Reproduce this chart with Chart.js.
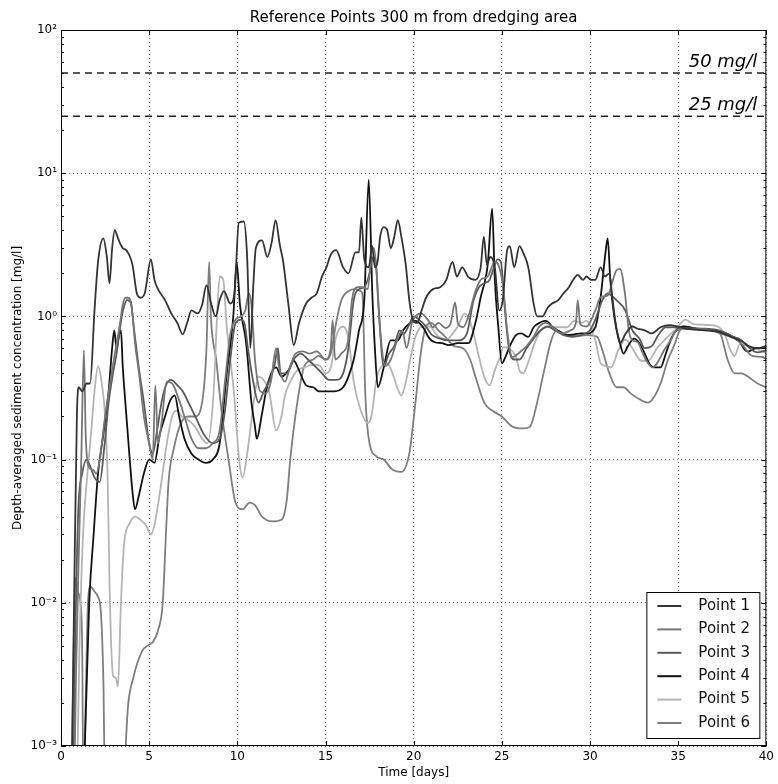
<!DOCTYPE html>
<html>
<head>
<meta charset="utf-8">
<script src="https://cdn.jsdelivr.net/npm/chart.js@4.4.1/dist/chart.umd.min.js"></script>
<style>
  html, body { margin: 0; padding: 0; background: #fff; }
  #wrap { width: 778px; height: 784px; }
</style>
</head>
<body>
<div id="wrap"><canvas id="conc"></canvas></div>
<script>
// [time in days, depth-averaged concentration in mg/l]
var point1 = [[0.6,0.0005],[0.75,0.012],[0.9,0.2],[1.0,0.32],[1.2,0.3],[1.45,0.34],[1.65,0.34],[1.9,1.1],[2.1,2.4],[2.4,3.5],[2.6,2.6],[2.75,1.7],[2.9,3.0],[3.05,4.0],[3.2,3.6],[3.32,3.3],[3.5,3.0],[3.7,2.9],[4.05,2.3],[4.3,1.45],[4.5,1.35],[4.75,1.45],[5.1,2.5],[5.3,1.8],[5.5,1.55],[5.9,1.3],[6.25,1.05],[6.6,0.9],[6.9,0.75],[7.15,0.9],[7.4,1.1],[7.75,1.05],[8.0,1.2],[8.25,1.65],[8.5,1.25],[8.77,1.0],[9.0,1.3],[9.24,1.5],[9.6,1.23],[9.85,1.5],[10.08,4.5],[10.37,4.6],[10.55,2.7],[10.74,0.6],[10.9,1.6],[11.05,3.0],[11.4,3.4],[11.7,2.6],[11.95,3.3],[12.17,4.7],[12.4,3.2],[12.6,2.4],[12.9,1.2],[13.2,0.63],[13.5,0.9],[13.9,1.23],[14.2,1.35],[14.5,1.45],[14.8,1.9],[15.05,2.2],[15.3,2.7],[15.6,2.9],[16.0,2.2],[16.3,2.0],[16.7,2.8],[16.9,2.8],[17.03,4.9],[17.2,2.5],[17.45,2.2],[17.65,3.1],[17.8,2.2],[17.95,2.4],[18.1,3.6],[18.3,4.2],[18.5,4.0],[18.7,3.0],[18.9,3.6],[19.1,4.7],[19.3,3.6],[19.55,2.3],[19.75,1.3],[19.95,0.95],[20.2,0.9],[20.45,1.1],[20.7,1.35],[21.1,1.55],[21.5,1.6],[21.85,1.8],[22.2,2.4],[22.45,1.9],[22.75,2.2],[23.1,1.88],[23.5,1.8],[23.8,2.2],[23.98,3.6],[24.15,2.3],[24.35,2.6],[24.6,2.2],[24.85,1.1],[25.05,1.3],[25.3,2.9],[25.45,3.1],[25.7,2.2],[26.0,3.1],[26.2,2.8],[26.5,2.2],[26.8,1.23],[27.0,1.0],[27.3,1.0],[27.6,1.15],[27.85,1.23],[28.2,1.3],[28.5,1.45],[28.8,1.6],[29.05,1.8],[29.3,1.95],[29.6,1.8],[29.8,1.9],[30.05,1.8],[30.3,1.8],[30.6,2.2],[30.85,1.9],[31.1,2.0],[31.25,1.4],[31.45,0.9],[31.7,0.65],[32.0,0.75],[32.4,0.85],[32.7,0.82],[33.1,0.8],[33.5,0.76],[34.0,0.84],[34.5,0.87],[35.0,0.85],[35.5,0.82],[36.5,0.8],[37.3,0.78],[38.0,0.72],[38.6,0.67],[39.0,0.62],[39.5,0.6],[40,0.62]];
var point2 = [[0.75,0.0005],[0.85,0.003],[1.0,0.02],[1.15,0.1],[1.3,0.58],[1.4,0.15],[1.55,0.09],[1.8,0.085],[2.0,0.08],[2.2,0.1],[2.5,0.2],[2.8,0.35],[3.0,0.5],[3.2,0.7],[3.35,0.9],[3.5,1.2],[3.65,1.35],[3.8,1.35],[4.0,1.2],[4.2,0.65],[4.45,0.38],[4.7,0.2],[5.0,0.13],[5.2,0.1],[5.35,0.33],[5.5,0.13],[5.7,0.18],[6.0,0.35],[6.3,0.34],[6.7,0.26],[7.0,0.2],[7.4,0.14],[7.8,0.12],[8.2,0.12],[8.6,0.13],[9.0,0.16],[9.3,0.35],[9.6,0.75],[9.9,0.95],[10.2,1.0],[10.45,1.1],[10.65,1.45],[10.8,1.2],[11.0,0.5],[11.3,0.3],[11.6,0.29],[11.9,0.35],[12.2,0.6],[12.35,0.45],[12.7,0.35],[13.0,0.45],[13.3,0.55],[13.7,0.57],[14.1,0.55],[14.5,0.57],[15.0,0.5],[15.3,0.6],[15.4,0.94],[15.55,0.5],[15.9,0.55],[16.3,0.7],[16.5,1.3],[16.8,1.6],[17.1,1.6],[17.4,1.55],[17.6,2.8],[17.75,3.0],[17.9,2.0],[18.1,0.8],[18.4,0.45],[18.7,0.5],[19.1,0.7],[19.35,0.8],[19.6,0.6],[19.9,0.9],[20.1,1.0],[20.4,1.05],[20.8,0.95],[21.1,0.84],[21.4,0.9],[21.8,0.83],[22.1,0.9],[22.35,1.25],[22.5,0.9],[22.8,0.84],[23.1,1.0],[23.5,1.5],[23.8,1.8],[24.2,1.9],[24.6,2.4],[24.8,2.3],[25.1,1.5],[25.3,0.8],[25.6,0.52],[26.0,0.56],[26.4,0.62],[26.8,0.72],[27.1,0.84],[27.5,0.9],[27.9,0.84],[28.4,0.76],[28.9,0.8],[29.2,0.9],[29.3,1.3],[29.45,0.88],[29.8,0.85],[30.3,1.1],[30.6,1.36],[31.0,1.4],[31.3,1.8],[31.5,2.1],[31.7,2.15],[31.98,1.45],[32.2,0.8],[32.4,0.68],[32.7,0.66],[33.0,0.55],[33.2,0.49],[33.55,0.44],[33.8,0.47],[34.2,0.58],[34.6,0.69],[34.9,0.8],[35.4,0.82],[36.8,0.8],[37.7,0.74],[38.2,0.7],[38.6,0.64],[39.2,0.53],[39.8,0.52],[40,0.5]];
var point3 = [[0.7,0.0005],[0.8,0.005],[0.9,0.02],[1.0,0.05],[1.2,0.08],[1.45,0.1],[1.65,0.09],[1.9,0.075],[2.2,0.07],[2.45,0.12],[2.7,0.25],[2.95,0.4],[3.15,0.55],[3.3,0.75],[3.45,1.0],[3.6,1.2],[3.75,1.3],[3.95,1.25],[4.15,0.8],[4.4,0.45],[4.7,0.25],[5.0,0.13],[5.2,0.11],[5.45,0.16],[5.7,0.25],[5.95,0.33],[6.25,0.36],[6.6,0.33],[6.9,0.3],[7.3,0.24],[7.7,0.19],[8.1,0.15],[8.6,0.13],[9.0,0.14],[9.3,0.22],[9.6,0.5],[9.9,0.9],[10.2,0.95],[10.4,0.9],[10.6,0.6],[10.9,0.35],[11.2,0.25],[11.5,0.3],[11.8,0.35],[12.1,0.45],[12.3,0.6],[12.45,0.4],[12.8,0.4],[13.2,0.5],[13.6,0.55],[14.0,0.5],[14.4,0.45],[14.8,0.4],[15.2,0.36],[15.6,0.36],[16.0,0.4],[16.3,0.6],[16.6,1.3],[16.9,1.55],[17.2,1.6],[17.5,2.0],[17.7,2.6],[17.85,2.4],[18.0,1.2],[18.3,0.45],[18.6,0.55],[18.9,0.62],[19.2,0.8],[19.4,0.75],[19.7,0.85],[20.0,1.0],[20.3,0.95],[20.7,0.85],[21.0,0.75],[21.5,0.7],[22.0,0.68],[22.5,0.68],[23.0,0.75],[23.4,1.3],[23.7,1.6],[24.0,1.7],[24.3,1.8],[24.55,2.2],[24.75,2.5],[24.95,2.4],[25.15,1.2],[25.4,0.6],[25.7,0.5],[26.0,0.5],[26.4,0.6],[26.8,0.7],[27.2,0.8],[27.6,0.85],[28.0,0.8],[28.5,0.74],[29.0,0.72],[29.5,0.74],[30.0,0.8],[30.3,0.95],[30.7,1.3],[31.0,1.45],[31.2,1.4],[31.5,1.3],[32.0,1.1],[32.4,0.8],[32.8,0.7],[33.1,0.6],[33.5,0.62],[33.9,0.75],[34.3,0.84],[34.8,0.84],[35.2,0.83],[36.5,0.82],[37.3,0.8],[37.9,0.74],[38.6,0.68],[39.2,0.58],[39.5,0.56],[40,0.58]];
var point4 = [[1.2,0.0005],[1.35,0.001],[1.6,0.01],[1.85,0.03],[2.1,0.08],[2.4,0.15],[2.7,0.3],[2.9,0.6],[3.02,0.8],[3.15,0.6],[3.3,0.75],[3.4,0.8],[3.5,0.45],[3.65,0.25],[3.85,0.12],[4.05,0.06],[4.2,0.045],[4.4,0.055],[4.7,0.08],[5.0,0.1],[5.3,0.095],[5.6,0.15],[5.9,0.2],[6.2,0.26],[6.45,0.28],[6.7,0.2],[7.0,0.14],[7.4,0.11],[7.8,0.1],[8.2,0.095],[8.6,0.1],[9.0,0.13],[9.4,0.4],[9.77,1.0],[9.96,2.4],[10.15,1.2],[10.5,0.65],[10.8,0.25],[11.0,0.17],[11.1,0.14],[11.4,0.21],[11.7,0.33],[12.2,0.44],[12.5,0.38],[12.9,0.42],[13.2,0.49],[13.5,0.42],[13.9,0.33],[14.3,0.32],[14.6,0.3],[15.0,0.3],[15.5,0.3],[16.0,0.32],[16.3,0.38],[16.6,0.5],[16.9,0.8],[17.2,1.3],[17.45,9.0],[17.65,1.5],[17.8,0.6],[17.97,0.32],[18.3,0.44],[18.7,0.68],[19.1,0.68],[19.4,0.8],[19.8,0.9],[20.1,0.93],[20.5,0.85],[20.9,0.7],[21.2,0.66],[21.6,0.65],[22.0,0.63],[22.5,0.65],[23.1,0.65],[23.5,0.9],[23.8,1.36],[24.2,2.3],[24.45,5.65],[24.6,1.8],[24.8,0.84],[25.0,0.47],[25.2,0.52],[25.45,0.62],[25.8,0.74],[26.1,0.76],[26.5,0.72],[26.8,0.84],[27.2,0.91],[27.5,0.93],[27.9,0.84],[28.3,0.78],[28.7,0.74],[29.1,0.75],[29.5,0.76],[29.8,0.76],[30.3,0.84],[30.6,1.36],[30.85,2.6],[31.0,3.5],[31.15,1.8],[31.4,0.95],[31.7,0.65],[31.9,0.55],[32.15,0.62],[32.5,0.7],[32.8,0.65],[33.1,0.55],[33.4,0.46],[33.7,0.44],[34.0,0.44],[34.3,0.55],[34.6,0.7],[34.9,0.8],[35.3,0.85],[36.0,0.82],[36.8,0.8],[37.5,0.78],[38.1,0.72],[38.5,0.66],[38.8,0.58],[39.0,0.57],[39.4,0.6],[40,0.6]];
var point5 = [[0.9,0.0005],[1.05,0.005],[1.25,0.03],[1.5,0.08],[1.7,0.15],[1.9,0.3],[2.1,0.45],[2.3,0.35],[2.5,0.2],[2.65,0.07],[2.76,0.012],[2.95,0.0031],[3.1,0.003],[3.23,0.0026],[3.4,0.01],[3.58,0.026],[3.9,0.036],[4.2,0.04],[4.5,0.038],[4.8,0.035],[5.1,0.03],[5.3,0.035],[5.6,0.058],[6.0,0.13],[6.3,0.2],[6.55,0.22],[6.85,0.2],[7.2,0.19],[7.6,0.17],[8.0,0.14],[8.3,0.13],[8.65,0.29],[8.85,1.0],[9.0,1.9],[9.2,1.8],[9.4,0.84],[9.6,0.5],[9.8,0.3],[10.1,0.1],[10.3,0.075],[10.6,0.12],[11.0,0.29],[11.2,0.38],[11.4,0.37],[11.8,0.3],[12.2,0.16],[12.5,0.2],[12.7,0.28],[13.0,0.35],[13.4,0.42],[13.8,0.44],[14.3,0.46],[14.7,0.45],[15.0,0.4],[15.3,0.44],[15.6,0.72],[16.0,0.85],[16.3,0.7],[16.6,0.35],[17.0,0.22],[17.4,0.18],[17.6,0.2],[17.9,0.37],[18.2,0.45],[18.5,0.47],[18.8,0.4],[19.1,0.31],[19.3,0.28],[19.6,0.37],[19.8,0.5],[20.1,0.72],[20.5,0.85],[20.9,0.85],[21.4,0.72],[21.9,0.69],[22.1,0.73],[22.5,0.85],[22.9,1.05],[23.3,0.84],[23.7,0.52],[24.0,0.38],[24.3,0.33],[24.6,0.42],[24.9,0.52],[25.1,0.61],[25.4,0.6],[25.8,0.52],[26.0,0.42],[26.2,0.4],[26.5,0.48],[26.8,0.62],[27.1,0.76],[27.5,0.84],[28.2,0.84],[28.7,0.84],[29.1,0.93],[29.5,0.9],[29.8,0.93],[30.3,0.68],[30.6,0.47],[30.9,0.45],[31.2,0.44],[31.6,0.58],[32.0,0.69],[32.4,0.6],[32.9,0.49],[33.3,0.49],[33.8,0.6],[34.3,0.7],[34.9,0.82],[35.4,0.95],[35.9,0.88],[36.8,0.87],[37.6,0.77],[37.97,0.58],[38.2,0.53],[38.5,0.64],[39.2,0.6],[39.8,0.57],[40,0.55]];
var point6 = [[0.6,0.0005],[0.72,0.005],[0.82,0.015],[0.95,0.012],[1.1,0.01],[1.2,0.005],[1.27,0.0005],[1.35,0.001],[1.5,0.008],[1.65,0.013],[1.9,0.012],[2.1,0.011],[2.25,0.009],[2.4,0.003],[2.5,0.0005],[3.55,0.0005],[3.7,0.0012],[3.8,0.0019],[4.07,0.0029],[4.6,0.0046],[5.0,0.0051],[5.2,0.0053],[5.5,0.0064],[5.77,0.01],[5.95,0.03],[6.1,0.07],[6.4,0.12],[6.8,0.18],[7.2,0.2],[7.6,0.2],[8.0,0.25],[8.25,0.6],[8.4,2.4],[8.5,1.0],[8.8,0.5],[9.1,0.22],[9.5,0.1],[9.9,0.05],[10.3,0.045],[10.7,0.05],[11.0,0.048],[11.4,0.04],[12.0,0.037],[12.5,0.038],[12.8,0.052],[13.0,0.1],[13.4,0.25],[13.8,0.45],[14.3,0.5],[14.6,0.53],[15.0,0.5],[15.3,0.55],[15.6,0.9],[15.9,1.3],[16.3,1.5],[16.7,1.55],[17.0,1.5],[17.1,1.4],[17.25,0.3],[17.45,0.14],[17.9,0.105],[18.3,0.1],[18.8,0.085],[19.3,0.082],[19.75,0.11],[20.1,0.25],[20.4,0.55],[20.7,0.85],[21.0,0.9],[21.4,0.8],[21.8,0.72],[22.3,0.62],[22.8,0.6],[23.2,0.5],[23.5,0.38],[24.0,0.25],[24.45,0.22],[25.0,0.2],[25.6,0.17],[26.2,0.165],[26.6,0.17],[27.0,0.25],[27.4,0.42],[27.8,0.68],[28.1,0.8],[28.6,0.75],[29.2,0.73],[29.8,0.74],[30.4,0.72],[30.7,0.58],[31.1,0.4],[31.5,0.32],[31.9,0.32],[32.3,0.29],[32.9,0.26],[33.3,0.25],[33.6,0.27],[34.0,0.34],[34.4,0.49],[34.8,0.64],[35.1,0.8],[35.5,0.84],[36.2,0.82],[37.0,0.8],[37.4,0.75],[37.8,0.5],[38.2,0.4],[38.6,0.4],[38.95,0.38],[39.5,0.34],[40,0.32]];

var seriesNames = ["Point 1", "Point 2", "Point 3", "Point 4", "Point 5", "Point 6"];
var seriesColors = ["#333333", "#767676", "#595959", "#111111", "#b4b4b4", "#7e7e7e"];
var thresholds = [50, 25];
var thresholdLabels = ["50 mg/l", "25 mg/l"];
var yTicks = [0.001, 0.01, 0.1, 1, 10, 100];
var yTickLabels = ["10\u207B\u00B3", "10\u207B\u00B2", "10\u207B\u00B9", "10\u2070", "10\u00B9", "10\u00B2"];
var xMin = 0, xMax = 40, xStep = 5;
var title = "Reference Points 300 m from dredging area";

function toXY(rows) {
    return rows.map(function (r) { return {x: r[0], y: r[1]}; });
}

var allSeries = [point1, point2, point3, point4, point5, point6];
var datasets = allSeries.map(function (rows, i) {
    return {
        label: seriesNames[i],
        data: toXY(rows),
        borderColor: seriesColors[i],
        borderWidth: 1.8,
        pointRadius: 0,
        cubicInterpolationMode: "monotone",
        fill: false
    };
});
thresholds.forEach(function (v) {
    datasets.push({
        label: v + " mg/l",
        data: [{x: xMin, y: v}, {x: xMax, y: v}],
        borderColor: "#222222",
        borderWidth: 1.5,
        borderDash: [7, 5],
        pointRadius: 0,
        fill: false
    });
});

// box, inward ticks, title, threshold labels and the legend
var frame = {
    id: "frame",
    afterDraw: function (chart) {
        var ctx = chart.ctx, a = chart.chartArea;
        var xs = chart.scales.x, ys = chart.scales.y;
        ctx.save();
        ctx.strokeStyle = "#000";
        ctx.lineWidth = 1;
        ctx.strokeRect(a.left + 0.5, a.top + 0.5, a.right - a.left - 1, a.bottom - a.top - 1);

        ctx.beginPath();
        for (var d = -3; d < 2; d++) {
            for (var m = 1; m < 10; m++) {
                var v = m * Math.pow(10, d);
                var py = Math.round(ys.getPixelForValue(v)) + 0.5;
                var len = m === 1 ? 5 : 3;
                ctx.moveTo(a.left, py); ctx.lineTo(a.left + len, py);
                ctx.moveTo(a.right, py); ctx.lineTo(a.right - len, py);
            }
        }
        for (var x = xMin; x <= xMax; x += xStep) {
            var px = Math.round(xs.getPixelForValue(x)) + 0.5;
            ctx.moveTo(px, a.top); ctx.lineTo(px, a.top + 5);
            ctx.moveTo(px, a.bottom); ctx.lineTo(px, a.bottom - 5);
        }
        ctx.stroke();

        ctx.fillStyle = "#000";
        ctx.font = "15px 'DejaVu Sans'";
        ctx.textAlign = "center";
        ctx.textBaseline = "middle";
        ctx.fillText(title, (a.left + a.right) / 2, a.top - 12);

        ctx.font = "italic 18px 'DejaVu Sans'";
        ctx.textAlign = "right";
        ctx.textBaseline = "alphabetic";
        thresholds.forEach(function (v, i) {
            ctx.fillText(thresholdLabels[i], a.right - 9, ys.getPixelForValue(v) - 6);
        });

        var bx = a.right - 120, by = a.bottom - 154, bw = 113, bh = 146;
        ctx.fillStyle = "#fff";
        ctx.fillRect(bx, by, bw, bh);
        ctx.strokeStyle = "#000";
        ctx.strokeRect(bx + 0.5, by + 0.5, bw, bh);
        ctx.font = "15px 'DejaVu Sans'";
        ctx.textAlign = "left";
        ctx.textBaseline = "middle";
        seriesNames.forEach(function (name, i) {
            var ry = by + 14 + i * 23.4;
            ctx.strokeStyle = seriesColors[i];
            ctx.lineWidth = 2;
            ctx.beginPath();
            ctx.moveTo(bx + 11, ry); ctx.lineTo(bx + 35, ry);
            ctx.stroke();
            ctx.fillStyle = "#111";
            ctx.fillText(name, bx + 52, ry);
        });
        ctx.restore();
    }
};

Chart.defaults.font.family = "'DejaVu Sans'";
Chart.defaults.color = "#000";

new Chart(document.getElementById("conc").getContext("2d"), {
    type: "line",
    data: { datasets: datasets },
    options: {
        responsive: true,
        maintainAspectRatio: false,
        animation: false,
        layout: { padding: { top: 30, right: 7, left: 0, bottom: 0 } },
        plugins: { legend: { display: false }, tooltip: { enabled: false } },
        scales: {
            x: {
                type: "linear",
                min: xMin,
                max: xMax,
                afterFit: function (s) { s.height = 38; },
                ticks: { stepSize: xStep, padding: 4, font: { size: 12 }, maxRotation: 0 },
                grid: { color: "rgba(0,0,0,0.5)", lineWidth: 1, drawTicks: false },
                border: { display: false, dash: [1, 3] },
                title: { display: true, text: "Time [days]", font: { size: 12 }, padding: { top: 0, bottom: 4 } }
            },
            y: {
                type: "logarithmic",
                min: 0.001,
                max: 100,
                afterFit: function (s) { s.width = 61; },
                afterBuildTicks: function (s) {
                    s.ticks = yTicks.map(function (v) { return {value: v}; });
                },
                ticks: {
                    padding: 4,
                    font: { size: 12 },
                    callback: function (value, index) { return yTickLabels[index]; }
                },
                grid: { color: "rgba(0,0,0,0.5)", lineWidth: 1, drawTicks: false },
                border: { display: false, dash: [1, 3] },
                title: { display: true, text: "Depth-averaged sediment concentration [mg/l]", font: { size: 12 }, padding: { top: 11, bottom: 0 } }
            }
        }
    },
    plugins: [frame]
});
</script>
</body>
</html>
